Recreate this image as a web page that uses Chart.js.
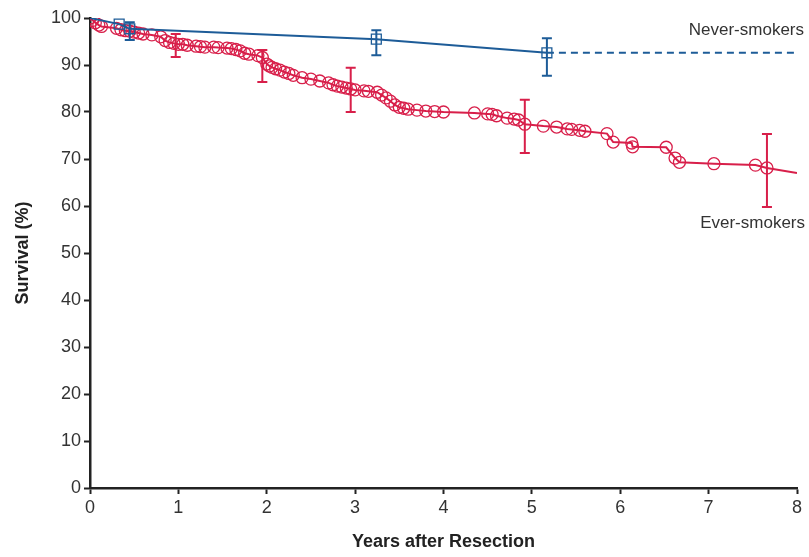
<!DOCTYPE html>
<html>
<head>
<meta charset="utf-8">
<script src="https://cdn.jsdelivr.net/npm/chart.js@4/dist/chart.umd.min.js"></script>
<style>
  html, body { margin: 0; padding: 0; background: #fff; }
  #wrap { width: 809px; height: 557px; }
</style>
</head>
<body>
<div id="wrap"><canvas id="survChart"></canvas></div>
<script>
// ever-smokers Kaplan-Meier (years, survival %)
const everYears = [0, 0.03, 0.06, 0.1, 0.13, 0.3, 0.35, 0.4, 0.45, 0.5, 0.55, 0.6, 0.7, 0.8, 0.85, 0.9, 0.95, 1.0, 1.05, 1.1,
  1.2, 1.25, 1.3, 1.4, 1.45, 1.55, 1.6, 1.65, 1.7, 1.75, 1.8, 1.9, 1.95, 2.0, 2.03, 2.06, 2.1, 2.15, 2.2, 2.25,
  2.3, 2.4, 2.5, 2.6, 2.7, 2.75, 2.8, 2.85, 2.9, 2.95, 3.0, 3.1, 3.15, 3.25, 3.3, 3.35, 3.4, 3.45, 3.5, 3.55,
  3.6, 3.7, 3.8, 3.9, 4.0, 4.35, 4.5, 4.55, 4.6, 4.72, 4.8, 4.85, 4.92, 5.13, 5.28, 5.4, 5.45, 5.54, 5.6, 5.85,
  5.92, 6.13, 6.14, 6.52, 6.62, 6.67, 7.06, 7.53, 7.66];
const everSurv = [100, 99.5, 99, 98.5, 98.2, 97.8, 97.5, 97.3, 97.2, 97, 96.8, 96.6, 96.4, 96, 95.2, 94.8, 94.6, 94.4, 94.4, 94.2,
  94, 93.9, 93.8, 93.8, 93.7, 93.6, 93.5, 93.3, 93, 92.5, 92.3, 92, 91.6, 90.2, 89.8, 89.5, 89.2, 88.9, 88.5, 88.2,
  87.8, 87.3, 87, 86.6, 86.2, 85.8, 85.5, 85.3, 85.1, 84.9, 84.7, 84.5, 84.4, 84.2, 83.6, 83, 82.3, 81.5, 81, 80.8,
  80.6, 80.4, 80.2, 80.1, 80, 79.8, 79.6, 79.5, 79.2, 78.7, 78.5, 78.3, 77.4, 77, 76.8, 76.4, 76.3, 76.1, 75.9, 75.4,
  73.6, 73.4, 72.6, 72.5, 70.2, 69.3, 69, 68.7, 68.1];
const everTail = [[7.66, 68.1], [8, 67]];

// ever-smokers confidence bars
const everErrYears = [0.97, 1.95, 2.95, 4.92, 7.66];
const everErrLow = [91.7, 86.4, 80.0, 71.3, 59.8];
const everErrHigh = [96.6, 93.2, 89.4, 82.6, 75.3];

// never-smokers
const neverYears = [0, 0.33, 0.45, 3.24, 5.17];
const neverSurv = [100, 98.7, 97.7, 95.5, 92.6];
const neverDashed = [[5.17, 92.6], [8, 92.6]];
const neverErrYears = [0.45, 3.24, 5.17];
const neverErrLow = [95.3, 92.1, 87.7];
const neverErrHigh = [99.1, 97.4, 95.7];

const xTicks = [0, 1, 2, 3, 4, 5, 6, 7, 8];
const yTicks = [0, 10, 20, 30, 40, 50, 60, 70, 80, 90, 100];

const RED = '#d81f4a';
const BLUE = '#1d5c98';
const FONT = "'Liberation Sans', Arial, sans-serif";

const errorBars = {
  id: 'errorBars',
  afterDatasetsDraw(chart) {
    const { ctx, scales: { x, y } } = chart;
    const draw = (xs, lo, hi, color) => {
      ctx.save();
      ctx.strokeStyle = color;
      ctx.lineWidth = 2;
      xs.forEach((v, i) => {
        const px = x.getPixelForValue(v);
        const top = y.getPixelForValue(hi[i]);
        const bot = y.getPixelForValue(lo[i]);
        ctx.beginPath();
        ctx.moveTo(px, top); ctx.lineTo(px, bot);
        ctx.moveTo(px - 5, top); ctx.lineTo(px + 5, top);
        ctx.moveTo(px - 5, bot); ctx.lineTo(px + 5, bot);
        ctx.stroke();
      });
      ctx.restore();
    };
    draw(everErrYears, everErrLow, everErrHigh, RED);
    draw(neverErrYears, neverErrLow, neverErrHigh, BLUE);

    // series labels
    ctx.save();
    ctx.fillStyle = '#333';
    ctx.font = "17px " + FONT;
    ctx.textAlign = 'right';
    ctx.textBaseline = 'middle';
    ctx.fillText('Never-smokers', 804, y.getPixelForValue(97.3));
    ctx.fillText('Ever-smokers', 805, y.getPixelForValue(56.4));
    ctx.restore();
  }
};

new Chart(document.getElementById('survChart'), {
  type: 'scatter',
  data: {
    datasets: [
      {
        data: neverDashed.map(p => ({ x: p[0], y: p[1] })),
        showLine: true,
        borderColor: BLUE,
        borderWidth: 2,
        borderDash: [7, 5],
        pointRadius: 0
      },
      {
        data: neverYears.map((v, i) => ({ x: v, y: neverSurv[i] })),
        showLine: true,
        borderColor: BLUE,
        borderWidth: 2,
        pointStyle: 'rect',
        pointRadius: ctx => ctx.dataIndex === 0 ? 0 : 7,
        pointBorderWidth: 1.3,
        pointBorderColor: BLUE,
        pointBackgroundColor: 'rgba(0,0,0,0)'
      },
      {
        data: everTail.map(p => ({ x: p[0], y: p[1] })),
        showLine: true,
        borderColor: RED,
        borderWidth: 2,
        pointRadius: 0
      },
      {
        data: everYears.map((v, i) => ({ x: v, y: everSurv[i] })),
        showLine: true,
        borderColor: RED,
        borderWidth: 2,
        pointStyle: 'circle',
        pointRadius: 6,
        pointBorderWidth: 1.3,
        pointBorderColor: RED,
        pointBackgroundColor: 'rgba(0,0,0,0)'
      }
    ]
  },
  options: {
    responsive: true,
    maintainAspectRatio: false,
    animation: false,
    layout: { padding: { top: 18, right: 12, left: 0, bottom: 0 } },
    plugins: {
      legend: { display: false },
      tooltip: { enabled: false }
    },
    scales: {
      x: {
        type: 'linear',
        min: 0, max: 8,
        afterBuildTicks: s => { s.ticks = xTicks.map(v => ({ value: v })); },
        afterFit: s => { s.height = 69; },
        grid: { drawOnChartArea: false, drawTicks: true, tickLength: 6, tickWidth: 2, color: '#222' },
        border: { color: '#222', width: 2.5 },
        ticks: { color: '#333', font: { family: FONT, size: 18 }, padding: 3 },
        title: { display: true, text: 'Years after Resection', color: '#222', font: { family: FONT, size: 18, weight: 'bold' }, padding: { top: 2 } }
      },
      y: {
        type: 'linear',
        min: 0, max: 100,
        afterBuildTicks: s => { s.ticks = yTicks.map(v => ({ value: v })); },
        afterFit: s => { s.width = 90; },
        grid: { drawOnChartArea: false, drawTicks: true, tickLength: 6, tickWidth: 2, color: '#222' },
        border: { color: '#222', width: 2.5 },
        ticks: { color: '#333', font: { family: FONT, size: 18 }, padding: 3 },
        title: { display: true, text: 'Survival (%)', color: '#222', font: { family: FONT, size: 18, weight: 'bold' }, padding: { top: 12, bottom: 0 } }
      }
    }
  },
  plugins: [errorBars]
});
</script>
</body>
</html>
